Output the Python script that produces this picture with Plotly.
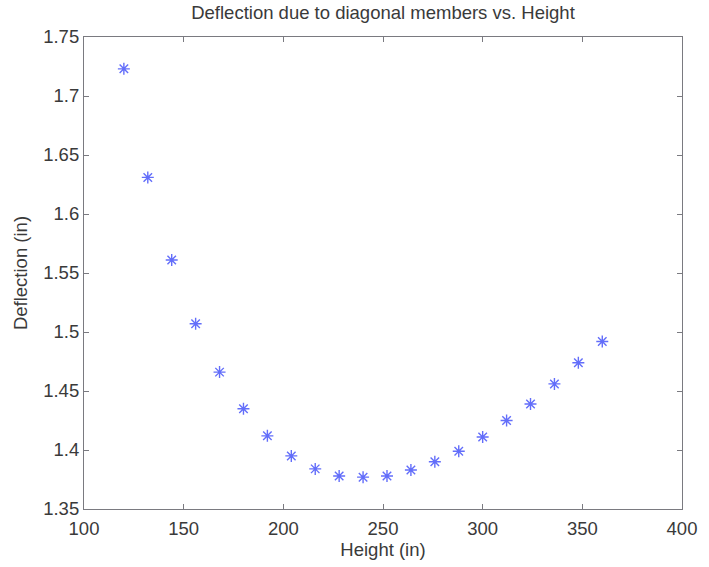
import plotly.graph_objects as go

heights = [120, 132, 144, 156, 168, 180, 192, 204, 216, 228, 240,
           252, 264, 276, 288, 300, 312, 324, 336, 348, 360]
deflections = [1.723, 1.631, 1.561, 1.507, 1.466, 1.435, 1.412, 1.395, 1.384, 1.378, 1.377,
               1.378, 1.383, 1.390, 1.399, 1.411, 1.425, 1.439, 1.456, 1.474, 1.492]

x_ticks = [100, 150, 200, 250, 300, 350, 400]
y_ticks = [1.35, 1.4, 1.45, 1.5, 1.55, 1.6, 1.65, 1.7, 1.75]
y_tick_labels = ["1.35", "1.4", "1.45", "1.5", "1.55", "1.6", "1.65", "1.7", "1.75"]

font_family = "Liberation Sans, Arial, sans-serif"
text_color = "#3a3a3a"
axis_color = "#7a7a80"
fs = 18.5

fig = go.Figure()
fig.add_trace(go.Scatter(
    x=heights, y=deflections, mode="markers",
    marker=dict(symbol="asterisk-open", size=10,
                line=dict(color="#4a5cc0", width=1.4)),
    showlegend=False,
))

axis_common = dict(
    showgrid=False, zeroline=False, showline=True, linecolor=axis_color, linewidth=1.2,
    mirror="allticks", ticks="inside", ticklen=5, tickcolor=axis_color, tickwidth=1,
    tickfont=dict(family=font_family, size=fs, color=text_color),
)

fig.update_layout(
    width=709, height=567,
    margin=dict(l=84, r=19, t=37, b=58),
    paper_bgcolor="white", plot_bgcolor="white",
    title=dict(text="Deflection due to diagonal members vs. Height",
               xref="paper", x=0.5, xanchor="center", y=1 - 13 / 567, yanchor="middle",
               font=dict(family=font_family, size=fs, color=text_color)),
    xaxis=dict(range=[100, 400], tickvals=x_ticks, ticktext=[str(v) for v in x_ticks],
               ticklabelstandoff=3,
               title=dict(text="Height (in)", standoff=0,
                          font=dict(family=font_family, size=fs, color=text_color)),
               **axis_common),
    yaxis=dict(range=[1.35, 1.75], tickvals=y_ticks, ticktext=y_tick_labels,
               ticklabelstandoff=0,
               title=dict(text="Deflection (in)", standoff=10,
                          font=dict(family=font_family, size=fs, color=text_color)),
               **axis_common),
)

fig.write_html("out.html")
